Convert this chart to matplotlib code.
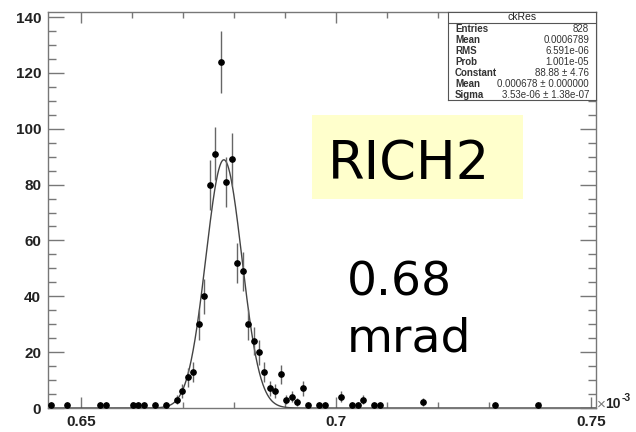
import numpy as np
import matplotlib
matplotlib.use("Agg")
import matplotlib.pyplot as plt
from matplotlib.patches import Rectangle
from matplotlib.ticker import MultipleLocator, FuncFormatter

# histogram: 100 bins, x in units of 1e-3
x_min, x_max, n_bins = 0.6435, 0.751, 100

# non-empty bins (index, content)
bin_idx = [0, 3, 9, 10, 15, 16, 17, 19, 21, 23, 24, 25, 26, 27, 28, 29, 30, 31,
           32, 33, 34, 35, 36, 37, 38, 39, 40, 41, 42, 43, 44, 45, 46, 47, 49,
           50, 53, 55, 56, 57, 59, 60, 68, 81, 89]
bin_cnt = [1, 1, 1, 1, 1, 1, 1, 1, 1, 3, 6, 11, 13, 30, 40, 80, 91, 124,
           81, 89, 52, 49, 30, 24, 20, 13, 7, 6, 12, 3, 4, 2, 7, 1, 1,
           1, 4, 1, 1, 3, 1, 1, 2, 1, 1]

# gaussian fit parameters (from the stats box)
fit_const = 88.88
fit_mean = 0.678
fit_sigma = 0.00353

stat_names = ["Entries", "Mean", "RMS", "Prob", "Constant", "Mean", "Sigma"]
stat_values = ["828", "0.0006789", "6.591e-06", "1.001e-05", "88.88 \u00b1 4.76",
               "0.000678 \u00b1 0.000000", "3.53e-06 \u00b1 1.38e-07"]

W, H = 636, 432


def fx(px):
    return px / W


def fy(py):
    return 1 - py / H


fig = plt.figure(figsize=(W / 100, H / 100), dpi=100)
ax = fig.add_axes([fx(48), fy(408), (596 - 48) / W, (408 - 11.7) / H])

edges = np.linspace(x_min, x_max, n_bins + 1)
centers = 0.5 * (edges[:-1] + edges[1:])
xs = centers[bin_idx]
ys = np.array(bin_cnt, dtype=float)

ax.errorbar(xs, ys, yerr=np.sqrt(ys), fmt="o", color="black", ms=3.8,
            ecolor="#666666", elinewidth=1, capsize=0, zorder=3)

xf = np.linspace(x_min, x_max, 1500)
yf = fit_const * np.exp(-0.5 * ((xf - fit_mean) / fit_sigma) ** 2)
ax.plot(xf, yf, color="#444444", lw=1, zorder=2)

ax.set_xlim(x_min, x_max)
ax.set_ylim(0, 141.9)

ax.xaxis.set_major_locator(MultipleLocator(0.05))
ax.xaxis.set_minor_locator(MultipleLocator(0.01))
ax.yaxis.set_major_locator(MultipleLocator(20))
ax.yaxis.set_minor_locator(MultipleLocator(5))
ax.xaxis.set_major_formatter(FuncFormatter(lambda v, p: "%g" % round(v, 3)))

ax.tick_params(axis="both", which="both", direction="in", top=True, right=True,
               colors="#777777", width=1)
ax.tick_params(axis="x", which="major", length=8, pad=5)
ax.tick_params(axis="x", which="minor", length=4)
ax.tick_params(axis="y", which="major", length=11.5, pad=5)
ax.tick_params(axis="y", which="minor", length=5.8)
for lab in ax.get_xticklabels() + ax.get_yticklabels():
    lab.set_fontfamily("Liberation Sans")
    lab.set_fontweight("bold")
    lab.set_fontsize(11)
    lab.set_color("#222222")
for s in ax.spines.values():
    s.set_color("#777777")
    s.set_linewidth(1)

# x10^-3 label
fig.text(fx(597), fy(409), "\u00d7", fontsize=11, color="#777777",
         family="Liberation Sans", ha="left", va="baseline")
fig.text(fx(605), fy(408), "10", fontsize=10, color="#222222",
         family="Liberation Sans", weight="bold", ha="left", va="baseline")
fig.text(fx(622), fy(401), "-3", fontsize=7.5, color="#222222",
         family="Liberation Sans", weight="bold", ha="left", va="baseline")

# stats box
sb = fig.add_axes([fx(447.7), fy(100), (596 - 447.7) / W, (100 - 11.7) / H])
sb.set_xticks([])
sb.set_yticks([])
sb.set_xlim(447.7, 596)
sb.set_ylim(100, 11.7)
for s in sb.spines.values():
    s.set_color("#555555")
    s.set_linewidth(0.8)
sb.axhline(22.7, color="#555555", lw=0.8)
sb.text(521.8, 17.5, "ckRes", ha="center", va="center", fontsize=7.5,
        family="Liberation Sans", color="#222222")
for i, (n, v) in enumerate(zip(stat_names, stat_values)):
    yy = 28.6 + i * 11.1
    sb.text(455, yy, n, ha="left", va="center", fontsize=7,
            family="Liberation Sans", weight="bold", color="#333333")
    sb.text(589, yy, v, ha="right", va="center", fontsize=7,
            family="Liberation Sans", color="#333333")

# annotations
fig.add_artist(Rectangle((fx(311.7), fy(199.3)), (522.7 - 311.7) / W, (199.3 - 115) / H,
                         transform=fig.transFigure, facecolor="#ffffcc",
                         edgecolor="none", zorder=1))
fig.text(fx(328), fy(179), "RICH2", fontsize=38, family="DejaVu Sans",
         ha="left", va="baseline", color="black", zorder=2)
fig.text(fx(347), fy(295), "0.68", fontsize=34, family="DejaVu Sans",
         ha="left", va="baseline", color="black", zorder=2)
fig.text(fx(347), fy(351.7), "mrad", fontsize=34, family="DejaVu Sans",
         ha="left", va="baseline", color="black", zorder=2)

fig.savefig("out.png", dpi=100)
